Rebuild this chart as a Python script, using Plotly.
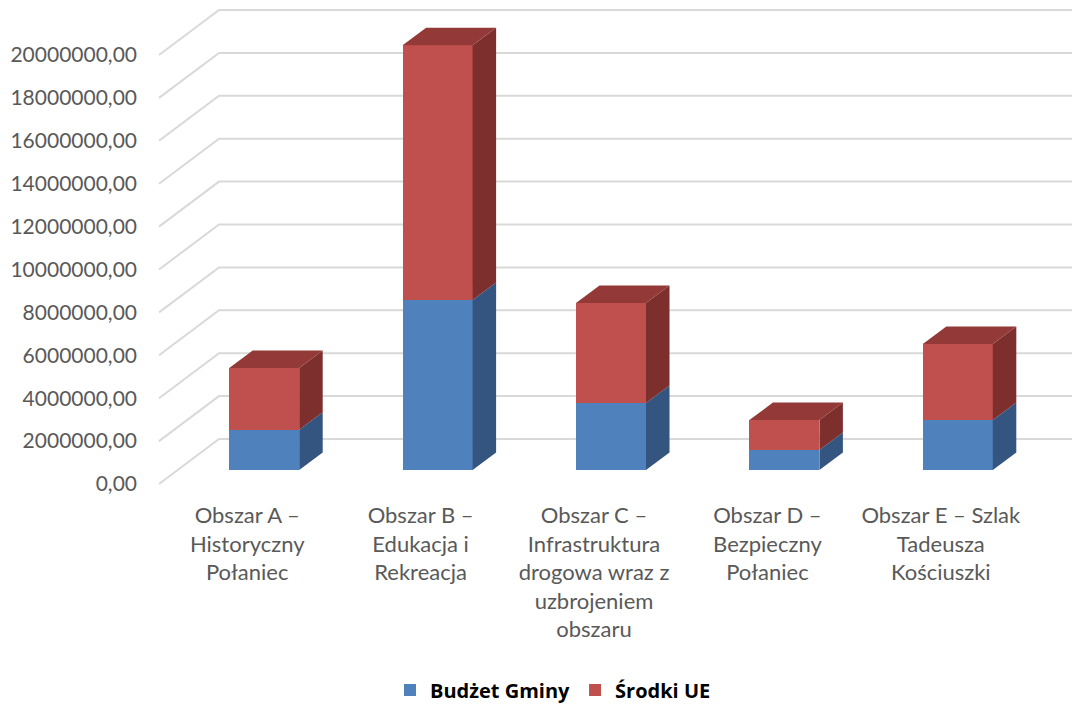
import plotly.graph_objects as go

# Values
categories = [
    "Obszar A –<br>Historyczny<br>Połaniec",
    "Obszar B –<br>Edukacja i<br>Rekreacja",
    "Obszar C –<br>Infrastruktura<br>drogowa wraz z<br>uzbrojeniem<br>obszaru",
    "Obszar D –<br>Bezpieczny<br>Połaniec",
    "Obszar E – Szlak<br>Tadeusza<br>Kościuszki",
]
budzet_gminy = [1880000, 7930000, 3120000, 930000, 2330000]
srodki_ue = [2870000, 11870000, 4670000, 1400000, 3540000]
tick_values = [0, 2000000, 4000000, 6000000, 8000000, 10000000,
               12000000, 14000000, 16000000, 18000000, 20000000]
tick_labels = ["0,00", "2000000,00", "4000000,00", "6000000,00", "8000000,00", "10000000,00",
               "12000000,00", "14000000,00", "16000000,00", "18000000,00", "20000000,00"]

# Page geometry of the fake 3D box (page pixels; the page body has an 8px margin)
page_margin = 8
plot_left = 144
plot_top = page_margin
plot_bottom = 500
cat_step = 173.4
first_cat = 264.2
bar_w = 70 / cat_step
side_dx = 23.5 / cat_step
side_dy = 17.5
wall_dx = 60 / cat_step
wall_dy = 45
per_px = 2000000 / 42.9
floor_front = 484
floor_bar = 470


def x_from_px(px):
    return (px - first_cat) / cat_step


positions = list(range(len(categories)))
label_positions = [p - 17 / cat_step for p in positions]
fig = go.Figure()

# Gridlines: diagonal on the side wall, then flat along the back wall
grid_x, grid_y = [], []
for v in tick_values:
    grid_x += [x_from_px(159), x_from_px(159) + wall_dx, x_from_px(1080), None]
    grid_y += [v, v + wall_dy * per_px, v + wall_dy * per_px, None]
fig.add_trace(go.Scatter(x=grid_x, y=grid_y, mode="lines", showlegend=False,
                         line=dict(color="#D9D9D9", width=2), hoverinfo="skip"))

# Front faces
fig.add_trace(go.Bar(x=positions, y=budzet_gminy, width=bar_w, name="Budżet Gminy",
                     marker=dict(color="#4F81BD", line=dict(width=0)), yaxis="y2"))
fig.add_trace(go.Bar(x=positions, y=srodki_ue, width=bar_w, name="Środki UE",
                     marker=dict(color="#C0504D", line=dict(width=0)), yaxis="y2"))

# Side and top faces
dy = side_dy * per_px
for p, blue, red in zip(positions, budzet_gminy, srodki_ue):
    x0 = p - bar_w / 2
    x1 = p + bar_w / 2
    total = blue + red
    faces = [
        ([x1, x1 + side_dx, x1 + side_dx, x1, x1], [0, dy, blue + dy, blue, 0], "#33557F"),
        ([x1, x1 + side_dx, x1 + side_dx, x1, x1], [blue, blue + dy, total + dy, total, blue], "#7D2F2E"),
        ([x0, x1, x1 + side_dx, x0 + side_dx, x0], [total, total, total + dy, total + dy, total], "#933A38"),
    ]
    for fx, fy, col in faces:
        fig.add_trace(go.Scatter(x=fx, y=fy, mode="lines", fill="toself", fillcolor=col,
                                 line=dict(width=0), showlegend=False, hoverinfo="skip", yaxis="y2"))

fig.update_layout(
    width=1080 - page_margin,
    height=704 - page_margin,
    barmode="stack",
    plot_bgcolor="white",
    paper_bgcolor="white",
    margin=dict(l=plot_left - page_margin, r=0, t=0, b=704 - plot_bottom, pad=0, autoexpand=False),
    xaxis=dict(
        range=[x_from_px(plot_left), x_from_px(1080)],
        tickmode="array", tickvals=label_positions, ticktext=categories,
        tickangle=0, tickfont=dict(family="Lato", size=22, color="#595959"),
        ticklen=0, showgrid=False, zeroline=False, showline=False,
    ),
    yaxis=dict(
        range=[(floor_front - plot_bottom) * per_px, (floor_front - plot_top) * per_px],
        tickmode="array", tickvals=tick_values, ticktext=tick_labels,
        tickfont=dict(family="Lato", size=21, color="#595959"),
        ticklen=0, ticklabelstandoff=6,
        showgrid=False, zeroline=False, showline=False,
    ),
    yaxis2=dict(
        range=[(floor_bar - plot_bottom) * per_px, (floor_bar - plot_top) * per_px],
        overlaying="y", side="right", showticklabels=False, ticklen=0,
        showgrid=False, zeroline=False, showline=False,
    ),
    legend=dict(
        orientation="h", x=(553 - plot_left) / (1080 - plot_left), xanchor="center",
        y=(plot_bottom - 690) / (plot_bottom - plot_top), yanchor="middle",
        font=dict(family="Open Sans", size=20, color="#000000", weight="bold"),
        traceorder="normal",
    ),
)

fig.write_html("out.html")
